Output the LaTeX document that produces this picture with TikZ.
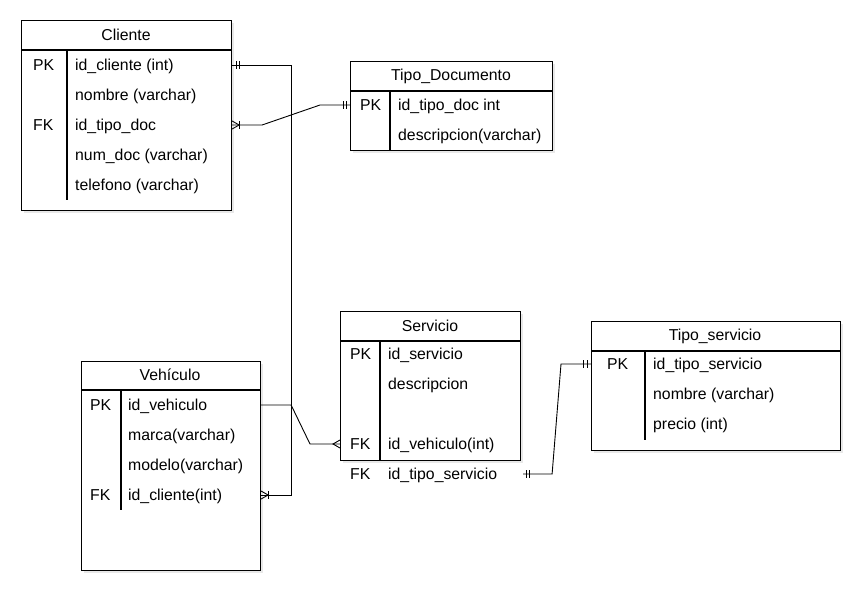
\documentclass[tikz,border=0pt]{standalone}
\usepackage{fontspec}
\setmainfont{Liberation Sans}
\usetikzlibrary{shadows}
\newcommand\myfs{\fontsize{15.8}{18}\selectfont}
\begin{document}
\begin{tikzpicture}[x=1pt,y=1pt,
  tbl/.style={draw, line width=1.1pt, fill=white, anchor=north west, inner sep=0pt,
    drop shadow={shadow xshift=2pt,shadow yshift=-2pt,opacity=0.18}},
  fld/.style={anchor=west, inner sep=0pt, text height=11.4pt, text depth=0pt, font=\myfs},
  ttl/.style={inner sep=0pt, font=\myfs},
  sepl/.style={line width=1.1pt},
  conn/.style={line width=0.9pt},
  mk/.style={line width=0.9pt}]
\useasboundingbox[fill=white] (0,0) rectangle (867,-597);

% ---------- Cliente ----------
\node[tbl, minimum width=210pt, minimum height=190pt] (cli) at (21,-20) {};
\draw[sepl] (21,-50) -- (231,-50);
\draw[sepl] (67,-50) -- (67,-200);
\node[ttl] (clit) at (126,-35) {Cliente};
\node[fld] (cpkl) at (33,-65) {PK};
\node[fld] (cpk) at (75,-65) {id\_cliente (int)};
\node[fld] (cnom) at (75,-95) {nombre (varchar)};
\node[fld] (cfkl) at (33,-125) {FK};
\node[fld] (cfk) at (75,-125) {id\_tipo\_doc};
\node[fld] (cnum) at (75,-155) {num\_doc (varchar)};
\node[fld] (ctel) at (75,-185) {telefono (varchar)};

% ---------- Tipo_Documento ----------
\node[tbl, minimum width=202pt, minimum height=89pt] (td) at (350,-61) {};
\draw[sepl] (350,-91) -- (552,-91);
\draw[sepl] (390,-91) -- (390,-150);
\node[ttl] (tdt) at (451,-76) {Tipo\_Documento};
\node[fld] (tpkl) at (360,-105) {PK};
\node[fld] (tpk) at (398,-105) {id\_tipo\_doc int};
\node[fld] (tdes) at (398,-135) {descripcion(varchar)};

% ---------- Vehiculo ----------
\node[tbl, minimum width=179pt, minimum height=209pt] (vh) at (81,-361) {};
\draw[sepl] (81,-390) -- (260,-390);
\draw[sepl] (121,-390) -- (121,-510);
\node[ttl] (vht) at (170,-375) {Vehículo};
\node[fld] (vpkl) at (90,-405) {PK};
\node[fld] (vpk) at (128,-405) {id\_vehiculo};
\node[fld] (vmar) at (128,-435) {marca(varchar)};
\node[fld] (vmod) at (128,-465) {modelo(varchar)};
\node[fld] (vfkl) at (90,-495) {FK};
\node[fld] (vfk) at (128,-495) {id\_cliente(int)};

% ---------- Servicio ----------
\node[tbl, minimum width=180pt, minimum height=149pt] (sv) at (340,-311) {};
\draw[sepl] (340,-341) -- (520,-341);
\draw[sepl] (380,-341) -- (380,-460);
\node[ttl] (svt) at (430,-326) {Servicio};
\node[fld] (spkl) at (350,-354) {PK};
\node[fld] (spk) at (388,-354) {id\_servicio};
\node[fld] (sdes) at (388,-384) {descripcion};
\node[fld] (sfkl) at (350,-444) {FK};
\node[fld] (sfk) at (388,-444) {id\_vehiculo(int)};
\node[fld] (stfl) at (350,-474) {FK};
\node[fld] (stf) at (388,-474) {id\_tipo\_servicio};

% ---------- Tipo_servicio ----------
\node[tbl, minimum width=249pt, minimum height=129pt] (ts) at (591,-321) {};
\draw[sepl] (591,-351) -- (840,-351);
\draw[sepl] (645,-351) -- (645,-440);
\node[ttl] (tst) at (715,-336) {Tipo\_servicio};
\node[fld] (tspkl) at (607,-364) {PK};
\node[fld] (tspk) at (653,-364) {id\_tipo\_servicio};
\node[fld] (tsnom) at (653,-394) {nombre (varchar)};
\node[fld] (tspre) at (653,-424) {precio (int)};

% ---------- connectors ----------
% Cliente PK -> Vehiculo FK
\coordinate (e1) at (cli.east |- cpk.west);
\coordinate (e2) at (vh.east |- vfk.west);
\draw[conn] (e1) -- ++(59,0) |- (e2);
\draw[mk] ([xshift=4]e1) ++(0,4) -- ++(0,-8);
\draw[mk] ([xshift=7]e1) ++(0,4) -- ++(0,-8);
\draw[mk] ([yshift=4]e2) -- ++(7,-4) -- ++(-7,-4);
\draw[mk] ([xshift=7]e2) ++(0,4) -- ++(0,-8);

% Cliente FK -> Tipo_Documento PK
\coordinate (e3) at (cli.east |- cfk.west);
\coordinate (e4) at (td.west |- tpk.west);
\draw[conn] (e3) -- ++(30,0) -- ([xshift=-30]e4) -- (e4);
\draw[mk] ([yshift=4]e3) -- ++(7,-4) -- ++(-7,-4);
\draw[mk] ([xshift=7]e3) ++(0,4) -- ++(0,-8);
\draw[mk] ([xshift=-4]e4) ++(0,4) -- ++(0,-8);
\draw[mk] ([xshift=-7]e4) ++(0,4) -- ++(0,-8);

% Vehiculo PK -> Servicio FK
\coordinate (e5) at (vh.east |- vpk.west);
\coordinate (e6) at (sv.west |- sfk.west);
\draw[conn] (e5) -- ++(30,0) -- ([xshift=-30]e6) -- (e6);
\draw[mk] ([yshift=4]e6) -- ++(-7,-4) -- ++(7,-4);

% Servicio id_tipo_servicio -> Tipo_servicio PK
\coordinate (e7) at ([xshift=2]sv.east |- stf.west);
\coordinate (e8) at (ts.west |- tspk.west);
\draw[conn] (e7) -- ++(29,0) -- ([xshift=-30]e8) -- (e8);
\draw[mk] ([xshift=3]e7) ++(0,4) -- ++(0,-8);
\draw[mk] ([xshift=6]e7) ++(0,4) -- ++(0,-8);
\draw[mk] ([xshift=-4]e8) ++(0,4) -- ++(0,-8);
\draw[mk] ([xshift=-8]e8) ++(0,4) -- ++(0,-8);
\end{tikzpicture}
\end{document}
